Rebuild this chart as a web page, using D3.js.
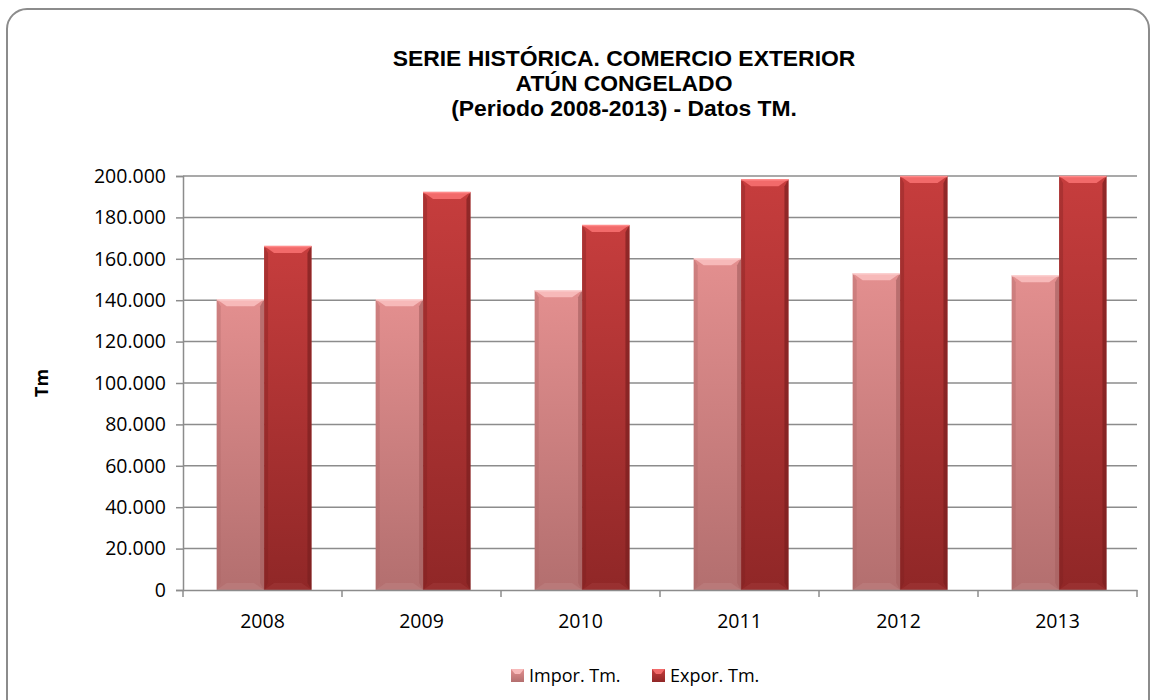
<!DOCTYPE html>
<html>
<head>
    <meta charset="utf-8">
    <script src="https://cdn.jsdelivr.net/npm/d3@7"></script>
    <title>Serie histórica - Atún congelado</title>
    <style>
        body { margin: 0; background: #fff; }
        svg { display: block; }
    </style>
</head>
<body>
<script>
    // data
    var years = ["2008", "2009", "2010", "2011", "2012", "2013"];
    var impor = [140400, 140400, 144800, 160300, 153000, 152000];
    var expor = [166200, 192300, 176300, 198400, 204000, 207000];
    var seriesNames = ["Impor. Tm.", "Expor. Tm."];
    var yTicks = [0, 20000, 40000, 60000, 80000, 100000, 120000, 140000, 160000, 180000, 200000];
    var titleLines = ["SERIE HISTÓRICA. COMERCIO EXTERIOR", "ATÚN CONGELADO", "(Periodo 2008-2013) - Datos TM."];

    var width = 1156, height = 700;
    var plotL = 183, plotR = 1137, plotT = 176, plotB = 590;

    var svg = d3.select("body").append("svg")
        .attr("width", width)
        .attr("height", height);

    // colours per series
    var palette = [
        { top: "#e38f8f", bot: "#b36f6f", hi: "#f7b9b9", lo: "#b97a7a", side: "#a86363", edge: "#fbd0d0" },
        { top: "#c63d3d", bot: "#902727", hi: "#f26a6a", lo: "#9a3232", side: "#7a1f1f", edge: "#ff8a8a" }
    ];

    var defs = svg.append("defs");
    palette.forEach(function (p, i) {
        var g = defs.append("linearGradient").attr("id", "body" + i)
            .attr("x1", 0).attr("y1", 0).attr("x2", 0).attr("y2", 1);
        g.append("stop").attr("offset", "0%").attr("stop-color", p.top);
        g.append("stop").attr("offset", "100%").attr("stop-color", p.bot);
    });
    defs.append("clipPath").attr("id", "plotclip")
        .append("rect").attr("x", plotL).attr("y", plotT - 1)
        .attr("width", plotR - plotL).attr("height", plotB - plotT + 1);

    // outer frame
    svg.append("rect")
        .attr("x", 7).attr("y", 9)
        .attr("width", 1142).attr("height", 720)
        .attr("rx", 20).attr("ry", 20)
        .attr("fill", "#fff")
        .attr("stroke", "#8c8c8c")
        .attr("stroke-width", 2);

    // scales
    var x = d3.scaleBand().domain(years).range([plotL, plotR]).paddingInner(0).paddingOuter(0);
    var y = d3.scaleLinear().domain([0, 200000]).range([plotB, plotT]).clamp(true);

    var fmt = function (v) { return d3.format(",")(v).replace(/,/g, "."); };

    // gridlines
    svg.append("g")
        .selectAll("line")
        .data(yTicks.slice(1))
        .enter().append("line")
        .attr("x1", plotL).attr("x2", plotR)
        .attr("y1", function (d) { return y(d); })
        .attr("y2", function (d) { return y(d); })
        .attr("stroke", "#8c8c8c")
        .attr("stroke-width", 1.5);

    // bars
    var bw = x.bandwidth() * 0.298;
    var off = x.bandwidth() * 0.212;
    var rows = [];
    years.forEach(function (yr, i) {
        rows.push({ s: 0, yr: yr, v: impor[i] });
        rows.push({ s: 1, yr: yr, v: expor[i] });
    });

    var bars = svg.append("g").attr("clip-path", "url(#plotclip)")
        .selectAll("g.bar")
        .data(rows)
        .enter().append("g")
        .attr("class", "bar");

    bars.each(function (d) {
        var g = d3.select(this);
        var p = palette[d.s];
        var x0 = x(d.yr) + off + d.s * bw;
        var y0 = y(d.v);
        var h = plotB - y0;
        var b = 7, sb = 4;
        g.append("rect")
            .attr("x", x0).attr("y", y0).attr("width", bw).attr("height", h)
            .attr("fill", "url(#body" + d.s + ")");
        // side bevels
        g.append("polygon")
            .attr("points", [[x0, y0], [x0 + sb, y0 + b], [x0 + sb, plotB - b], [x0, plotB]].join(" "))
            .attr("fill", p.side).attr("opacity", 0.35);
        g.append("polygon")
            .attr("points", [[x0 + bw, y0], [x0 + bw - sb, y0 + b], [x0 + bw - sb, plotB - b], [x0 + bw, plotB]].join(" "))
            .attr("fill", p.side).attr("opacity", 0.7);
        // top bevel
        g.append("polygon")
            .attr("points", [[x0, y0], [x0 + bw, y0], [x0 + bw - sb - 6, y0 + b], [x0 + sb + 6, y0 + b]].join(" "))
            .attr("fill", p.hi);
        g.append("line")
            .attr("x1", x0).attr("x2", x0 + bw).attr("y1", y0 + 0.5).attr("y2", y0 + 0.5)
            .attr("stroke", p.edge).attr("stroke-width", 1.5);
        // bottom bevel
        g.append("polygon")
            .attr("points", [[x0, plotB], [x0 + bw, plotB], [x0 + bw - sb - 6, plotB - b], [x0 + sb + 6, plotB - b]].join(" "))
            .attr("fill", p.lo).attr("opacity", 0.9);
    });

    // y axis
    var yAxis = d3.axisLeft(y).tickValues(yTicks).tickSize(7).tickPadding(10).tickFormat(fmt);
    var gy = svg.append("g")
        .attr("transform", "translate(" + plotL + ",0)")
        .call(yAxis);
    gy.select(".domain").attr("stroke", "#8c8c8c").attr("stroke-width", 1.5);
    gy.selectAll(".tick line").attr("stroke", "#8c8c8c").attr("stroke-width", 1.5);
    gy.selectAll(".tick text")
        .attr("font-family", "'Open Sans', sans-serif")
        .attr("font-size", 19.5)
        .attr("fill", "#000");

    // x axis
    var xAxis = d3.axisBottom(x).tickSize(0).tickPadding(24);
    var gx = svg.append("g")
        .attr("transform", "translate(0," + plotB + ")")
        .call(xAxis);
    gx.select(".domain").attr("stroke", "#8c8c8c").attr("stroke-width", 1.5);
    gx.selectAll(".tick text")
        .attr("font-family", "'Open Sans', sans-serif")
        .attr("font-size", 19.5)
        .attr("fill", "#000");
    // boundary ticks between categories
    var bounds = years.map(function (d) { return x(d); }).concat([plotR]);
    gx.selectAll(".bound")
        .data(bounds)
        .enter().append("line")
        .attr("class", "bound")
        .attr("x1", function (d) { return d; }).attr("x2", function (d) { return d; })
        .attr("y1", 0).attr("y2", 7)
        .attr("stroke", "#8c8c8c").attr("stroke-width", 1.5);

    // title
    svg.append("g")
        .attr("transform", "translate(624,0) scale(1.04,1)")
        .append("text")
        .attr("y", 66)
        .attr("text-anchor", "middle")
        .attr("font-family", "'Liberation Sans', Arial, sans-serif")
        .attr("font-weight", "bold")
        .attr("font-size", 22)
        .selectAll("tspan")
        .data(titleLines)
        .enter().append("tspan")
        .attr("x", 0)
        .attr("dy", function (d, i) { return i === 0 ? 0 : 25; })
        .text(function (d) { return d; });

    // y axis title
    svg.append("text")
        .attr("transform", "translate(48,383) rotate(-90)")
        .attr("text-anchor", "middle")
        .attr("font-family", "'Open Sans', sans-serif")
        .attr("font-weight", "bold")
        .attr("font-size", 18)
        .text("Tm");

    // legend
    var legX = [511, 652];
    var leg = svg.append("g").selectAll("g")
        .data(seriesNames)
        .enter().append("g")
        .attr("transform", function (d, i) { return "translate(" + legX[i] + ",669)"; });
    leg.append("rect")
        .attr("width", 13).attr("height", 13)
        .attr("fill", function (d, i) { return "url(#body" + i + ")"; });
    leg.append("polygon")
        .attr("points", "0,0 13,0 9,5 4,5")
        .attr("fill", function (d, i) { return palette[i].hi; });
    leg.append("text")
        .attr("x", 18).attr("y", 13)
        .attr("font-family", "'Open Sans', sans-serif")
        .attr("font-size", 18)
        .text(function (d) { return d; });
</script>
</body>
</html>
